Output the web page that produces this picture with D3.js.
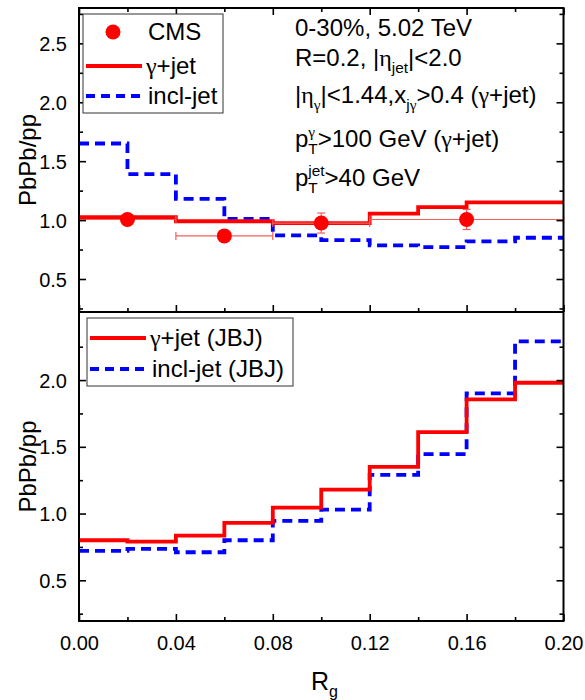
<!DOCTYPE html>
<html>
<head>
<meta charset="utf-8">
<script src="https://cdn.jsdelivr.net/npm/d3@7"></script>
<style>
  body { margin: 0; background: #fff; }
  text { font-family: Arial, "Liberation Sans", sans-serif; fill: #000; }
  .greek { font-family: "Liberation Serif", "DejaVu Serif", serif; }
</style>
</head>
<body>
<svg id="chart" width="585" height="700"></svg>
<script>
// bin edges in Rg, ten bins of 0.02
const rgEdges = [0, 0.02, 0.04, 0.06, 0.08, 0.10, 0.12, 0.14, 0.16, 0.18, 0.20];

// upper panel: theory curves
const gammaJetTop = [1.025, 1.025, 0.99, 0.99, 0.975, 0.975, 1.055, 1.11, 1.15, 1.15];
const inclJetTop = [1.65, 1.39, 1.18, 1.01, 0.87, 0.83, 0.785, 0.77, 0.82, 0.85];

// upper panel: CMS data
const cmsX = [0.02, 0.06, 0.10, 0.16];
const cmsY = [1.005, 0.866, 0.975, 1.005];
const cmsXLo = [0.00, 0.04, 0.08, 0.12];
const cmsXHi = [0.04, 0.08, 0.12, 0.20];
const cmsErr = [0.04, 0.04, 0.085, 0.085];

// lower panel: JBJ curves
const gammaJetJBJ = [0.80, 0.79, 0.835, 0.93, 1.045, 1.18, 1.35, 1.61, 1.855, 1.98];
const inclJetJBJ = [0.72, 0.735, 0.71, 0.80, 0.945, 1.03, 1.29, 1.445, 1.90, 2.29];

// ticks
const xMajor = [0, 0.04, 0.08, 0.12, 0.16, 0.20];
const xMinor = [0.02, 0.06, 0.10, 0.14, 0.18];
const yTopMajor = [0.5, 1.0, 1.5, 2.0, 2.5];
const yTopMinor = [0.25, 0.75, 1.25, 1.75, 2.25, 2.75];
const yBotMajor = [0.5, 1.0, 1.5, 2.0];
const yBotMinor = [0.25, 0.75, 1.25, 1.75, 2.25];

const svg = d3.select('#chart');

const left = 79, right = 563.5;
const topY0 = 8, midY = 312, botY1 = 621;

const x = d3.scaleLinear().domain([0, 0.2]).range([left, right]);
const yTop = d3.scaleLinear().domain([0.22, 2.8]).range([midY, topY0]);
const yBot = d3.scaleLinear().domain([0.195, 2.51]).range([botY1, midY]);

const RED = '#ff0000', BLUE = '#0000ff';

const stepLine = (y) => d3.line()
    .x(d => x(d[0]))
    .y(d => y(d[1]))
    .curve(d3.curveStepAfter);

const stepPoints = (vals) => rgEdges.map((e, i) => [e, vals[Math.min(i, vals.length - 1)]]);

// fill a text element, greek letters in a serif face
const mixed = function (t, str) {
    str.split(/([γη]+)/).filter(s => s.length).forEach(function (s) {
        t.append('tspan').attr('class', /[γη]/.test(s) ? 'greek' : null).text(s);
    });
    return t;
};

// rich text: segments [text, mode] with mode '', 'sub', 'sup', or 'ss' (text = [sup, sub])
const richText = function (g, x0, y0, segs, size) {
    let cx = x0;
    const small = size * 0.64;
    segs.forEach(function (s) {
        const mode = s[1];
        if (mode === 'ss') {
            const a = mixed(g.append('text').attr('x', cx).attr('y', y0 - size * 0.42)
                .style('font-size', small + 'px'), s[0][0]);
            const b = mixed(g.append('text').attr('x', cx).attr('y', y0 + size * 0.28)
                .style('font-size', small + 'px'), s[0][1]);
            cx += Math.max(a.node().getComputedTextLength(), b.node().getComputedTextLength());
        } else {
            const dy = mode === 'sub' ? size * 0.28 : mode === 'sup' ? -size * 0.4 : 0;
            const t = mixed(g.append('text').attr('x', cx).attr('y', y0 + dy)
                .style('font-size', (mode ? small : size) + 'px'), s[0]);
            cx += t.node().getComputedTextLength();
        }
    });
};

const drawAxes = function (y, y0, y1, major, minor, withXLabels, topTicks) {
    const g = svg.append('g');

    // left
    g.append('g').attr('transform', `translate(${left},0)`)
        .call(d3.axisLeft(y).tickValues(major).tickSize(-7).tickPadding(12).tickFormat(d3.format('.1f')))
        .call(a => a.select('.domain').remove())
        .call(a => a.selectAll('text').style('font-size', '20px').attr('dy', '0.35em'));
    g.append('g').attr('transform', `translate(${left},0)`)
        .call(d3.axisLeft(y).tickValues(minor).tickSize(-4).tickFormat(''))
        .call(a => a.select('.domain').remove());
    // right
    g.append('g').attr('transform', `translate(${right},0)`)
        .call(d3.axisRight(y).tickValues(major).tickSize(-7).tickFormat(''))
        .call(a => a.select('.domain').remove());
    g.append('g').attr('transform', `translate(${right},0)`)
        .call(d3.axisRight(y).tickValues(minor).tickSize(-4).tickFormat(''))
        .call(a => a.select('.domain').remove());
    // bottom
    g.append('g').attr('transform', `translate(0,${y1})`)
        .call(d3.axisBottom(x).tickValues(xMajor).tickSize(-7).tickPadding(15)
            .tickFormat(withXLabels ? d3.format('.2f') : ''))
        .call(a => a.select('.domain').remove())
        .call(a => a.selectAll('text').style('font-size', '20px'));
    g.append('g').attr('transform', `translate(0,${y1})`)
        .call(d3.axisBottom(x).tickValues(xMinor).tickSize(-4).tickFormat(''))
        .call(a => a.select('.domain').remove());
    if (topTicks) {
        g.append('g').attr('transform', `translate(0,${y0})`)
            .call(d3.axisTop(x).tickValues(xMajor).tickSize(-7).tickFormat(''))
            .call(a => a.select('.domain').remove());
        g.append('g').attr('transform', `translate(0,${y0})`)
            .call(d3.axisTop(x).tickValues(xMinor).tickSize(-4).tickFormat(''))
            .call(a => a.select('.domain').remove());
    }
    g.selectAll('.tick line').attr('stroke', '#000').attr('stroke-width', 1.6);
};

//------------------------------------------------------------------------------
// upper panel
const topG = svg.append('g');

topG.append('path')
    .datum(stepPoints(inclJetTop))
    .attr('d', stepLine(yTop))
    .attr('fill', 'none').attr('stroke', BLUE).attr('stroke-width', 3.8)
    .attr('stroke-dasharray', '10,6');

topG.append('path')
    .datum(stepPoints(gammaJetTop))
    .attr('d', stepLine(yTop))
    .attr('fill', 'none').attr('stroke', RED).attr('stroke-width', 3.8);

// CMS error bars
const cms = cmsX.map((d, i) => ({x: d, y: cmsY[i], lo: cmsXLo[i], hi: cmsXHi[i], e: cmsErr[i]}));
const errG = topG.append('g').attr('stroke', '#f06060').attr('stroke-width', 1.2).attr('fill', 'none');
cms.forEach(function (d) {
    errG.append('line').attr('x1', x(d.lo)).attr('x2', x(d.hi)).attr('y1', yTop(d.y)).attr('y2', yTop(d.y));
    errG.append('line').attr('x1', x(d.lo)).attr('x2', x(d.lo)).attr('y1', yTop(d.y) - 4).attr('y2', yTop(d.y) + 4);
    errG.append('line').attr('x1', x(d.hi)).attr('x2', x(d.hi)).attr('y1', yTop(d.y) - 4).attr('y2', yTop(d.y) + 4);
    errG.append('line').attr('x1', x(d.x)).attr('x2', x(d.x)).attr('y1', yTop(d.y - d.e)).attr('y2', yTop(d.y + d.e));
    errG.append('line').attr('x1', x(d.x) - 4).attr('x2', x(d.x) + 4).attr('y1', yTop(d.y - d.e)).attr('y2', yTop(d.y - d.e));
    errG.append('line').attr('x1', x(d.x) - 4).attr('x2', x(d.x) + 4).attr('y1', yTop(d.y + d.e)).attr('y2', yTop(d.y + d.e));
});
topG.selectAll('circle.cms')
    .data(cms)
    .enter()
    .append('circle')
    .attr('class', 'cms')
    .attr('cx', d => x(d.x))
    .attr('cy', d => yTop(d.y))
    .attr('r', 7.5)
    .attr('fill', RED);

//------------------------------------------------------------------------------
// lower panel
const botG = svg.append('g');

botG.append('path')
    .datum(stepPoints(inclJetJBJ))
    .attr('d', stepLine(yBot))
    .attr('fill', 'none').attr('stroke', BLUE).attr('stroke-width', 3.8)
    .attr('stroke-dasharray', '10,6');

botG.append('path')
    .datum(stepPoints(gammaJetJBJ))
    .attr('d', stepLine(yBot))
    .attr('fill', 'none').attr('stroke', RED).attr('stroke-width', 3.8);

//------------------------------------------------------------------------------
// axes and frames
drawAxes(yTop, topY0, midY, yTopMajor, yTopMinor, false, true);
drawAxes(yBot, midY, botY1, yBotMajor, yBotMinor, true, false);

svg.append('rect')
    .attr('x', left).attr('y', topY0)
    .attr('width', right - left).attr('height', botY1 - topY0)
    .attr('fill', 'none').attr('stroke', '#000').attr('stroke-width', 2);
svg.append('line')
    .attr('x1', left).attr('x2', right).attr('y1', midY).attr('y2', midY)
    .attr('stroke', '#000').attr('stroke-width', 2);

// axis titles
svg.append('text')
    .attr('transform', `translate(36,${(topY0 + midY) / 2}) rotate(-90)`)
    .attr('text-anchor', 'middle').style('font-size', '24px').text('PbPb/pp');
svg.append('text')
    .attr('transform', `translate(36,${(midY + botY1) / 2}) rotate(-90)`)
    .attr('text-anchor', 'middle').style('font-size', '24px').text('PbPb/pp');

const xTitle = svg.append('g');
richText(xTitle, 311, 690, [['R', ''], ['g', 'sub']], 25);

//------------------------------------------------------------------------------
// legends
const leg1 = svg.append('g');
leg1.append('rect').attr('x', 83).attr('y', 14).attr('width', 140).attr('height', 99)
    .attr('fill', '#fff').attr('stroke', '#333').attr('stroke-width', 1);
leg1.append('circle').attr('cx', 113).attr('cy', 32).attr('r', 7.5).attr('fill', RED);
leg1.append('line').attr('x1', 86).attr('x2', 142).attr('y1', 66).attr('y2', 66)
    .attr('stroke', RED).attr('stroke-width', 3.8);
leg1.append('line').attr('x1', 86).attr('x2', 142).attr('y1', 96).attr('y2', 96)
    .attr('stroke', BLUE).attr('stroke-width', 3.8).attr('stroke-dasharray', '9,6');
mixed(leg1.append('text').attr('x', 148).attr('y', 40).style('font-size', '24px'), 'CMS');
mixed(leg1.append('text').attr('x', 146).attr('y', 74).style('font-size', '24px'), 'γ+jet');
mixed(leg1.append('text').attr('x', 148).attr('y', 104).style('font-size', '24px'), 'incl-jet');

const leg2 = svg.append('g');
leg2.append('rect').attr('x', 87).attr('y', 318).attr('width', 206).attr('height', 68)
    .attr('fill', '#fff').attr('stroke', '#333').attr('stroke-width', 1);
leg2.append('line').attr('x1', 90).attr('x2', 146).attr('y1', 338).attr('y2', 338)
    .attr('stroke', RED).attr('stroke-width', 3.8);
leg2.append('line').attr('x1', 90).attr('x2', 146).attr('y1', 369).attr('y2', 369)
    .attr('stroke', BLUE).attr('stroke-width', 3.8).attr('stroke-dasharray', '9,6');
mixed(leg2.append('text').attr('x', 150).attr('y', 346).style('font-size', '24px'), 'γ+jet (JBJ)');
mixed(leg2.append('text').attr('x', 152).attr('y', 377).style('font-size', '24px'), 'incl-jet (JBJ)');

//------------------------------------------------------------------------------
// annotations
const ann = svg.append('g');
richText(ann, 295, 36, [['0-30%, 5.02 TeV', '']], 24);
richText(ann, 295, 66, [['R=0.2, |η', ''], ['jet', 'sub'], ['|<2.0', '']], 24);
richText(ann, 295, 103, [['|η', ''], ['γ', 'sub'], ['|<1.44,x', ''], ['jγ', 'sub'], ['>0.4 (γ+jet)', '']], 24);
richText(ann, 295, 147, [['p', ''], [['γ', 'T'], 'ss'], ['>100 GeV (γ+jet)', '']], 24);
richText(ann, 295, 186, [['p', ''], [['jet', 'T'], 'ss'], ['>40 GeV', '']], 24);
</script>
</body>
</html>
